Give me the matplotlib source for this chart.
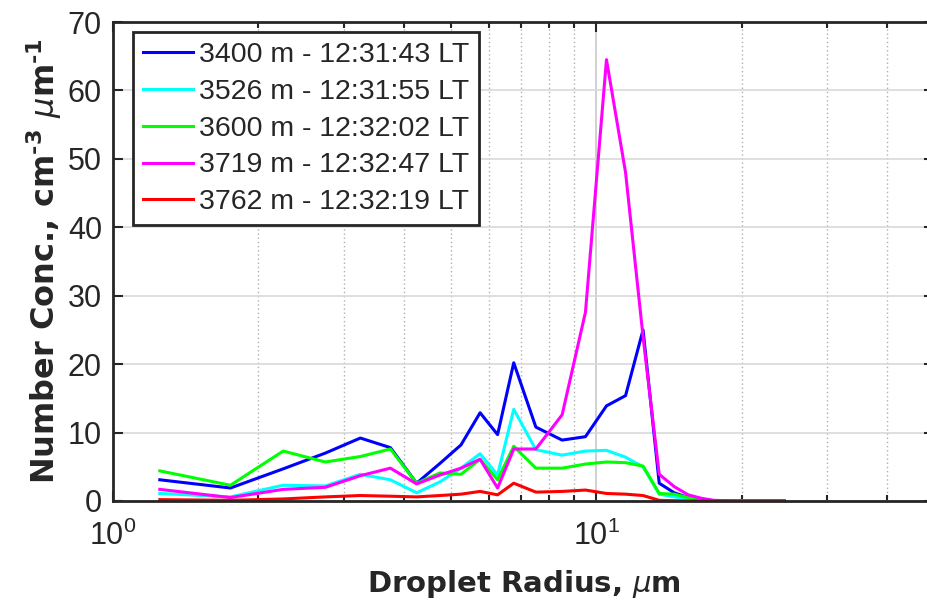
import numpy as np
import matplotlib
matplotlib.use('Agg')
import matplotlib.pyplot as plt
from matplotlib.ticker import LogLocator, NullFormatter, FixedLocator

plt.rcParams['font.family'] = ['Liberation Sans', 'DejaVu Sans']
plt.rcParams['mathtext.fontset'] = 'custom'
plt.rcParams['mathtext.rm'] = 'Liberation Sans'
plt.rcParams['mathtext.it'] = 'DejaVu Sans:italic'
plt.rcParams['mathtext.bf'] = 'DejaVu Sans:bold'

# bin centres (radius, um)
radius = [1.25, 1.75, 2.25, 2.75, 3.25, 3.75, 4.25, 4.75, 5.25, 5.75, 6.25, 6.75,
          7.5, 8.5, 9.5, 10.5, 11.5, 12.5, 13.5, 14.5, 15.5, 16.5, 17.5, 18.5,
          19.5, 20.5, 21.5, 22.5, 23.5, 24.5]

labels = ['3400 m - 12:31:43 LT', '3526 m - 12:31:55 LT', '3600 m - 12:32:02 LT',
          '3719 m - 12:32:47 LT', '3762 m - 12:32:19 LT']
colors = ['#0000ff', '#00ffff', '#00ff00', '#ff00ff', '#ff0000']

conc_3400 = [3.1, 1.9, 4.7, 7.0, 9.2, 7.8, 2.6, 5.5, 8.2, 12.9, 9.7, 20.2,
             10.8, 8.9, 9.4, 13.9, 15.4, 25.0, 2.6, 1.2, 0.5, 0.2, 0.05, 0,
             0, 0, 0, 0, 0, 0]
conc_3526 = [1.1, 0.6, 2.3, 2.2, 3.9, 3.1, 1.2, 2.8, 4.8, 6.9, 3.8, 13.4,
             7.5, 6.7, 7.3, 7.4, 6.4, 5.0, 1.0, 0.6, 0.3, 0.1, 0.03, 0,
             0, 0, 0, 0, 0, 0]
conc_3600 = [4.4, 2.3, 7.3, 5.7, 6.5, 7.6, 2.6, 4.1, 3.9, 6.1, 3.1, 8.0,
             4.8, 4.8, 5.4, 5.7, 5.6, 5.1, 1.1, 1.0, 0.5, 0.2, 0.05, 0,
             0, 0, 0, 0, 0, 0]
conc_3719 = [1.7, 0.5, 1.7, 2.0, 3.7, 4.8, 2.5, 3.8, 4.8, 6.1, 1.9, 7.6,
             7.6, 12.6, 27.6, 64.5, 48.0, 24.0, 3.9, 2.1, 0.9, 0.4, 0.1, 0.05,
             0, 0, 0, 0, 0, 0]
conc_3762 = [0.2, 0.1, 0.3, 0.6, 0.8, 0.7, 0.6, 0.8, 1.0, 1.4, 0.9, 2.6,
             1.3, 1.4, 1.6, 1.1, 1.0, 0.8, 0.1, 0.05, 0, 0, 0, 0,
             0, 0, 0, 0, 0, 0]
series = [conc_3400, conc_3526, conc_3600, conc_3719, conc_3762]

fig = plt.figure(figsize=(9.28, 6.04), dpi=100)
ax = fig.add_axes([113 / 928, 103 / 604, 821 / 928, 479 / 604])

for y, c, lab in zip(series, colors, labels):
    ax.plot(radius, y, color=c, lw=2.2, label=lab)

ax.set_xscale('log')
ax.set_xlim(1, 50)
ax.set_ylim(0, 70)
ax.set_yticks(np.arange(0, 71, 10))
ax.xaxis.set_major_locator(FixedLocator([1, 10]))
ax.xaxis.set_minor_locator(LogLocator(base=10, subs=np.arange(2, 10)))
ax.xaxis.set_minor_formatter(NullFormatter())

# MATLAB-like grid
ax.grid(True, which='major', axis='y', color='#d9d9d9', lw=1.2, ls='-')
ax.grid(True, which='major', axis='x', color='#c8c8c8', lw=1.2, ls='-')
ax.grid(True, which='minor', axis='x', color='#b0b0b0', lw=1.0, ls=(0, (1, 2)))
ax.set_axisbelow(True)

ax.tick_params(axis='both', which='both', direction='in', top=True, right=True,
               colors='#262626', labelcolor='#262626', labelsize=22, width=1.5)
ax.tick_params(axis='both', which='major', length=7)
ax.tick_params(axis='y', which='major', pad=8)
ax.tick_params(axis='x', which='major', pad=14)
ax.tick_params(axis='x', which='minor', length=4)
for s in ax.spines.values():
    s.set_linewidth(2)
    s.set_color('#262626')

ax.set_xlabel(r'Droplet Radius, $\mathit{\mu}$m', fontsize=21, fontweight='bold',
              family='DejaVu Sans', color='#262626', labelpad=12)
ax.set_ylabel('Number Conc., cm$^{\\mathbf{\u20103}}$ $\\mathit{\\mu}$m$^{\\mathbf{\u20101}}$',
              fontsize=23, fontweight='bold', family='DejaVu Sans',
              color='#262626', labelpad=3)

leg = ax.legend(loc='upper left', bbox_to_anchor=(0.0244, 0.979), borderaxespad=0,
                fontsize=20.5, frameon=True, fancybox=False,
                edgecolor='#262626', framealpha=1, handlelength=1.75,
                borderpad=0.35, labelspacing=0.38, handletextpad=0.2)
leg.get_frame().set_linewidth(2)
for t in leg.get_texts():
    t.set_color('#262626')

fig.savefig('out.png', dpi=100)
